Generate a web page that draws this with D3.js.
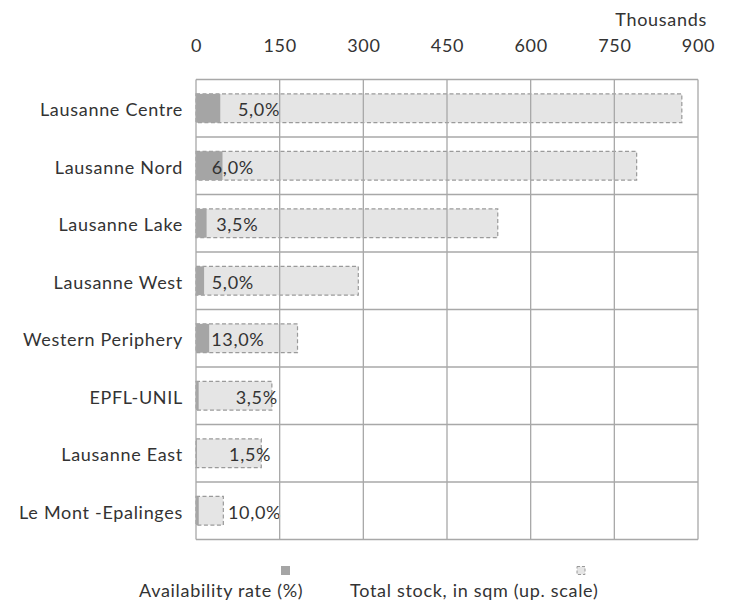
<!DOCTYPE html>
<html>
<head>
<meta charset="utf-8">
<script src="https://cdn.jsdelivr.net/npm/d3@7"></script>
<style>
  html, body { margin: 0; padding: 0; background: #ffffff; }
  svg text { font-family: "Lato", "Open Sans", sans-serif; fill: #333333; letter-spacing: 0.7px; }
</style>
</head>
<body>
<svg id="chart" width="732" height="604"></svg>
<script>
// ---- data ----
const categories = ["Lausanne Centre", "Lausanne Nord", "Lausanne Lake", "Lausanne West",
                    "Western Periphery", "EPFL-UNIL", "Lausanne East", "Le Mont -Epalinges"];
const totalStock = [871, 790, 541, 291, 182, 136, 117, 49];          // thousands sqm
const availableStock = [43.5, 47.5, 19, 14.5, 23.6, 4.8, 1.7, 4.9];   // thousands sqm
const rateLabels = ["5,0%", "6,0%", "3,5%", "5,0%", "13,0%", "3,5%", "1,5%", "10,0%"];
const tickValues = [0, 150, 300, 450, 600, 750, 900];
// label centres along the value axis (layout)
const labelAt = [113, 66, 74, 66, 75, 109, 97, 105];

const svg = d3.select("#chart");
const pLeft = 196, pRight = 698, pTop = 79.5, pBottom = 539.5;
const FS = 18;
const textColor = "#333333";

const x = d3.scaleLinear().domain([0, 900]).range([pLeft, pRight]);
const y = d3.scaleBand().domain(categories).range([pTop, pBottom]).paddingInner(0).paddingOuter(0);
const barH = y.bandwidth() * 0.5;

const gridColor = "#a8a8a8";

// bars
const rows = svg.append("g").selectAll("g").data(categories).join("g")
  .attr("transform", d => `translate(0,${y(d) + (y.bandwidth() - barH) / 2})`);

rows.append("rect")
  .attr("x", x(0))
  .attr("y", 0)
  .attr("width", (d, i) => x(totalStock[i]) - x(0))
  .attr("height", barH)
  .attr("fill", "#e5e5e5")
  .attr("stroke", "#9a9a9a")
  .attr("stroke-width", 1.2)
  .attr("stroke-dasharray", "4,2.5");

// grid (drawn over light bars like the reference)
const grid = svg.append("g");
grid.selectAll("line.v").data(tickValues).join("line")
  .attr("class", "v")
  .attr("x1", d => x(d)).attr("x2", d => x(d))
  .attr("y1", pTop).attr("y2", pBottom)
  .attr("stroke", gridColor).attr("stroke-width", 1.3);
grid.selectAll("line.h").data(d3.range(categories.length + 1)).join("line")
  .attr("class", "h")
  .attr("x1", pLeft).attr("x2", pRight)
  .attr("y1", i => pTop + i * y.step()).attr("y2", i => pTop + i * y.step())
  .attr("stroke", gridColor).attr("stroke-width", 1.3);

// availability bars
rows.append("rect")
  .attr("x", x(0))
  .attr("y", 0)
  .attr("width", (d, i) => x(availableStock[i]) - x(0))
  .attr("height", barH)
  .attr("fill", "#a5a5a5");

// value labels
rows.append("text")
  .attr("x", (d, i) => x(labelAt[i]))
  .attr("y", barH / 2)
  .attr("dy", "0.45em")
  .attr("text-anchor", "middle")
  .attr("font-size", FS)
  .text((d, i) => rateLabels[i]);

// top axis
const axis = d3.axisTop(x).tickValues(tickValues).tickSize(0).tickPadding(0).tickFormat(d3.format("d"));
const ax = svg.append("g").attr("transform", `translate(0,52)`).call(axis);
ax.select(".domain").remove();
ax.selectAll("text").attr("font-size", FS).attr("fill", textColor)
  .style("font-family", "Lato, 'Open Sans', sans-serif");

svg.append("text").attr("x", 707).attr("y", 26).attr("text-anchor", "end")
  .attr("font-size", FS).text("Thousands");

// category axis
const yAxis = d3.axisLeft(y).tickSize(0).tickPadding(13);
const ay = svg.append("g").attr("transform", `translate(${pLeft},0)`).call(yAxis);
ay.select(".domain").remove();
ay.selectAll("text").attr("font-size", FS).attr("fill", textColor).attr("dy", "0.45em")
  .style("font-family", "Lato, 'Open Sans', sans-serif");

// legend
const leg = svg.append("g");
leg.append("rect").attr("x", 281).attr("y", 566).attr("width", 9).attr("height", 9).attr("fill", "#a5a5a5");
leg.append("text").attr("x", 139).attr("y", 597).attr("font-size", FS).text("Availability rate (%)");
leg.append("rect").attr("x", 577).attr("y", 566.5).attr("width", 8).attr("height", 8)
  .attr("fill", "#e5e5e5").attr("stroke", "#9a9a9a").attr("stroke-width", 1).attr("stroke-dasharray", "3,2");
leg.append("text").attr("x", 350).attr("y", 597).attr("font-size", FS).text("Total stock, in sqm (up. scale)");
</script>
</body>
</html>
